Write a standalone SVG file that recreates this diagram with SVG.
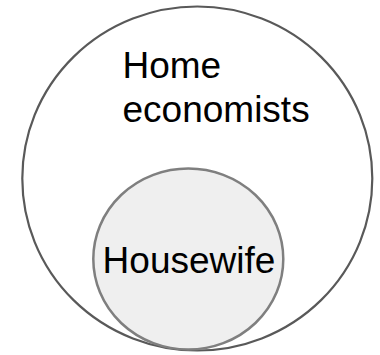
<svg xmlns="http://www.w3.org/2000/svg" width="380" height="355" viewBox="0 0 380 355">
<style>
text{font-family:"Liberation Sans",Arial,sans-serif;font-size:37px;fill:#000}
</style>
<rect width="380" height="355" fill="#fff"/>
<g id="home-economists">
<ellipse cx="197.3" cy="178.5" rx="175" ry="172" fill="none" stroke="#595959" stroke-width="2.2"/>
<text x="122.5" y="78">Home</text>
<text x="122.5" y="122">economists</text>
</g>
<g id="housewife">
<ellipse cx="188.3" cy="259" rx="95" ry="90.5" fill="#efefef" stroke="#7f7f7f" stroke-width="2.5"/>
<text x="189" y="272.5" text-anchor="middle">Housewife</text>
</g>
<g id="connectors"/>
</svg>
